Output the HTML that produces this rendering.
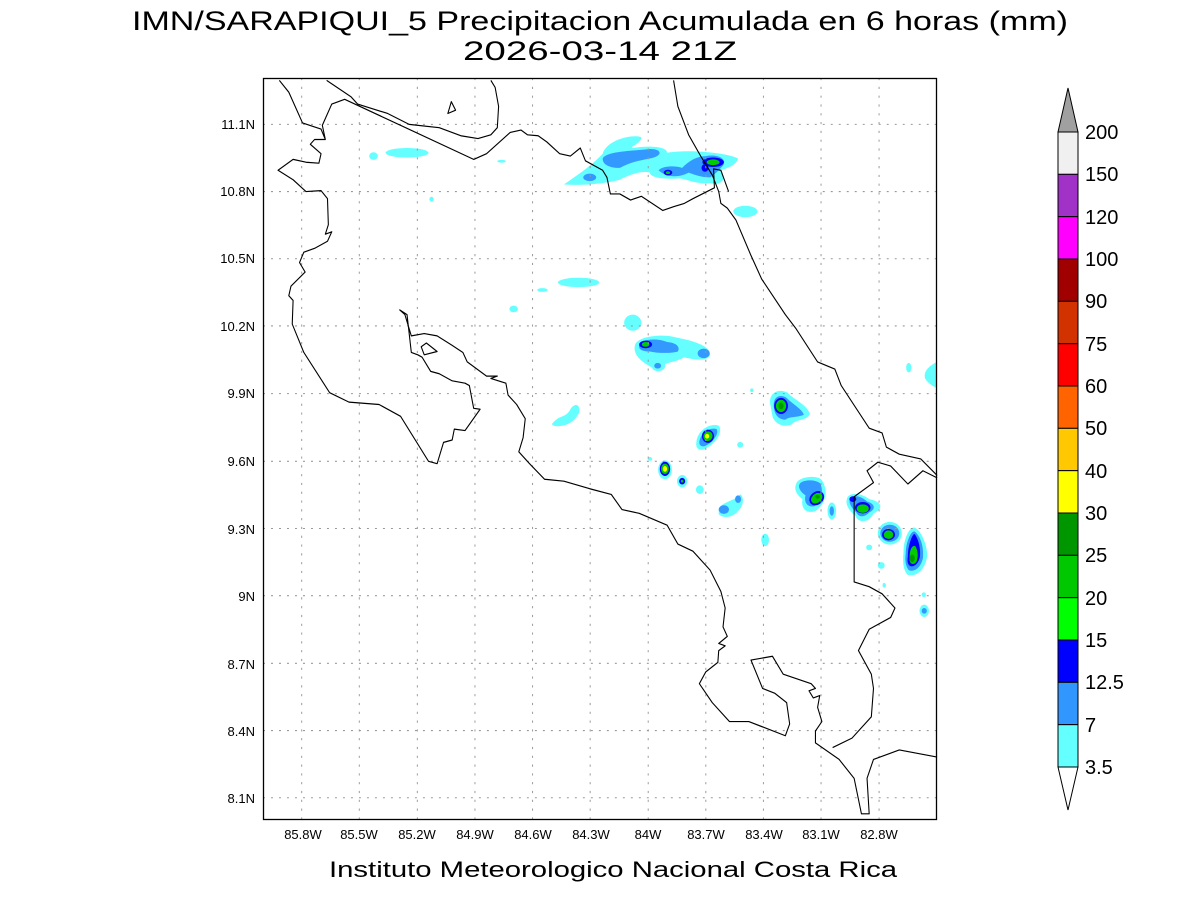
<!DOCTYPE html>
<html><head><meta charset="utf-8"><style>
html,body{margin:0;padding:0;background:#fff;}
svg{display:block;}
text{font-family:"Liberation Sans",sans-serif;fill:#000;}
</style></head><body>
<svg width="1200" height="900" viewBox="0 0 1200 900" xmlns="http://www.w3.org/2000/svg">
<rect width="1200" height="900" fill="#fff"/>
<text x="600" y="30" font-size="27" text-anchor="middle" textLength="936" lengthAdjust="spacingAndGlyphs">IMN/SARAPIQUI_5 Precipitacion Acumulada en 6 horas (mm)</text>
<text x="600" y="60" font-size="27" text-anchor="middle" textLength="274" lengthAdjust="spacingAndGlyphs">2026-03-14 21Z</text>
<text x="613" y="877" font-size="22" text-anchor="middle" textLength="568" lengthAdjust="spacingAndGlyphs" fill="#444">Instituto Meteorologico Nacional Costa Rica</text>

<g transform="translate(263,78) scale(0.42992,0.4732)">
 <g>
  <ellipse cx="335" cy="158" rx="50" ry="10" fill="#66ffff"/>
  <ellipse cx="257" cy="165" rx="10" ry="8" fill="#66ffff"/>
  <ellipse cx="555" cy="176" rx="10" ry="3" fill="#66ffff"/>
  <ellipse cx="392" cy="256" rx="5" ry="5" fill="#66ffff"/>
  <path d="M700,225 C740,200 770,180 790,160 C800,130 860,118 880,125 C880,140 850,145 860,148 C900,142 940,145 940,158 C990,150 1080,158 1105,170 C1100,185 1080,190 1065,195 C1080,215 1065,228 1040,222 C1010,225 990,215 970,212 C930,215 900,210 900,200 C880,195 850,205 830,215 C800,222 750,228 700,225Z" fill="#66ffff"/>
  <path d="M790,170 C800,155 850,155 900,150 C930,150 930,165 900,170 C870,175 850,180 830,190 C810,190 790,185 790,170Z" fill="#3399ff"/>
  <ellipse cx="760" cy="210" rx="15" ry="8" fill="#3399ff"/>
  <path d="M920,195 C930,185 960,185 975,190 C990,175 1010,165 1030,165 C1060,160 1080,172 1070,185 C1060,195 1050,205 1040,210 C1020,210 1005,205 990,200 C970,210 940,212 920,195Z" fill="#3399ff"/>
  <ellipse cx="1047" cy="178" rx="25" ry="10" fill="#0000ff"/>
  <ellipse cx="1047" cy="178" rx="15" ry="6" fill="#00cc00"/>
  <ellipse cx="1028" cy="190" rx="8" ry="8" fill="#0000ff"/>
  <ellipse cx="942" cy="200" rx="10" ry="6" fill="#0000ff"/>
  <ellipse cx="942" cy="200" rx="5" ry="3" fill="#00cc00"/>
  <ellipse cx="1122" cy="282" rx="28" ry="12" fill="#66ffff"/>
  <ellipse cx="734" cy="432" rx="48" ry="10" fill="#66ffff"/>
  <ellipse cx="650" cy="448" rx="12" ry="4" fill="#66ffff"/>
  <ellipse cx="583" cy="488" rx="10" ry="7" fill="#66ffff"/>
  <ellipse cx="860" cy="517" rx="20" ry="17" fill="#66ffff"/>
  <path d="M865,565 C870,545 930,540 960,548 C1000,555 1040,565 1040,585 C1035,600 1000,595 980,590 C960,600 945,600 935,605 C940,620 910,625 905,612 C880,600 860,585 865,565Z" fill="#66ffff"/>
  <path d="M875,565 C880,550 920,550 940,558 C965,560 970,570 965,578 C950,582 920,582 900,578 C880,578 873,572 875,565Z" fill="#3399ff"/>
  <ellipse cx="1025" cy="582" rx="14" ry="10" fill="#3399ff"/>
  <ellipse cx="918" cy="608" rx="8" ry="6" fill="#3399ff"/>
  <ellipse cx="890" cy="563" rx="15" ry="8" fill="#0000ff"/>
  <ellipse cx="890" cy="563" rx="9" ry="5" fill="#00cc00"/>
  <path d="M675,728 C690,712 705,718 715,700 C725,685 740,690 735,708 C725,725 710,735 685,736 C672,735 670,732 675,728Z" fill="#66ffff"/>
  <path d="M1180,690 C1175,665 1200,655 1220,665 C1235,680 1265,690 1272,710 C1265,725 1240,720 1230,732 C1210,740 1190,730 1185,715Z" fill="#66ffff"/>
  <path d="M1188,690 C1188,672 1205,668 1218,676 C1230,688 1255,700 1258,712 C1240,718 1225,715 1215,722 C1198,722 1188,710 1188,690Z" fill="#3399ff"/>
  <ellipse cx="1205" cy="693" rx="16" ry="17" fill="#0000ff"/>
  <ellipse cx="1205" cy="693" rx="12" ry="13" fill="#00cc00"/>
  <ellipse cx="1205" cy="693" rx="6" ry="7" fill="#009900"/>
  <path d="M1008,770 C1010,745 1040,728 1060,735 C1072,750 1050,775 1025,785 C1012,788 1006,780 1008,770Z" fill="#66ffff"/>
  <path d="M1015,768 C1018,750 1040,737 1055,742 C1062,752 1045,770 1028,778 C1018,780 1014,775 1015,768Z" fill="#3399ff"/>
  <ellipse cx="1035" cy="757" rx="14" ry="14" fill="#0000ff" transform="rotate(-30 1035 757)"/>
  <ellipse cx="1035" cy="757" rx="11" ry="10" fill="#00cc00" transform="rotate(-30 1035 757)"/>
  <ellipse cx="1033" cy="757" rx="5" ry="5" fill="#ffff00"/>
  <ellipse cx="1110" cy="775" rx="7" ry="6" fill="#66ffff"/>
  <ellipse cx="935" cy="828" rx="16" ry="20" fill="#66ffff"/>
  <ellipse cx="935" cy="826" rx="12" ry="15" fill="#0000ff"/>
  <ellipse cx="935" cy="826" rx="9" ry="11" fill="#00cc00"/>
  <ellipse cx="935" cy="826" rx="5" ry="6" fill="#ffff00"/>
  <ellipse cx="975" cy="852" rx="12" ry="13" fill="#66ffff"/>
  <ellipse cx="975" cy="852" rx="7" ry="7" fill="#0000ff"/>
  <ellipse cx="975" cy="852" rx="3" ry="3" fill="#00cc00"/>
  <ellipse cx="1016" cy="870" rx="9" ry="9" fill="#66ffff"/>
  <path d="M1060,910 C1070,895 1095,895 1110,880 C1120,885 1118,905 1105,915 C1095,928 1070,932 1060,922Z" fill="#66ffff"/>
  <ellipse cx="1072" cy="912" rx="12" ry="9" fill="#3399ff"/>
  <ellipse cx="1105" cy="890" rx="7" ry="8" fill="#3399ff"/>
  <path d="M1240,858 C1245,842 1290,838 1300,850 C1315,870 1310,900 1285,915 C1265,922 1250,910 1255,890 C1240,880 1235,868 1240,858Z" fill="#66ffff"/>
  <path d="M1248,858 C1255,848 1285,848 1295,856 C1305,870 1300,895 1282,905 C1265,908 1258,895 1262,882 C1250,875 1244,865 1248,858Z" fill="#3399ff"/>
  <ellipse cx="1288" cy="888" rx="18" ry="14" fill="#0000ff" transform="rotate(-30 1288 888)"/>
  <ellipse cx="1288" cy="888" rx="14" ry="10" fill="#00cc00" transform="rotate(-30 1288 888)"/>
  <ellipse cx="1290" cy="885" rx="5" ry="4" fill="#009900"/>
  <ellipse cx="1323" cy="915" rx="10" ry="18" fill="#66ffff"/>
  <ellipse cx="1323" cy="915" rx="5" ry="10" fill="#3399ff"/>
  <path d="M1358,890 C1360,875 1390,875 1410,890 C1440,895 1445,910 1420,920 C1410,940 1385,942 1378,925 C1360,912 1355,900 1358,890Z" fill="#66ffff"/>
  <path d="M1365,890 C1370,880 1390,882 1405,895 C1425,900 1425,912 1410,918 C1398,930 1385,928 1380,918 C1368,908 1362,898 1365,890Z" fill="#3399ff"/>
  <ellipse cx="1395" cy="908" rx="18" ry="12" fill="#0000ff"/>
  <ellipse cx="1395" cy="910" rx="14" ry="9" fill="#00cc00"/>
  <ellipse cx="1372" cy="890" rx="8" ry="6" fill="#0000ff"/>
  <ellipse cx="1458" cy="962" rx="28" ry="24" fill="#66ffff"/>
  <ellipse cx="1458" cy="962" rx="22" ry="18" fill="#3399ff"/>
  <ellipse cx="1455" cy="965" rx="15" ry="12" fill="#0000ff"/>
  <ellipse cx="1455" cy="965" rx="11" ry="9" fill="#00cc00"/>
  <path d="M1490,1000 C1490,980 1500,950 1515,950 C1530,955 1545,985 1545,1010 C1540,1040 1520,1055 1500,1050 C1488,1040 1488,1020 1490,1000Z" fill="#66ffff"/>
  <path d="M1495,1005 C1495,985 1505,958 1515,958 C1528,965 1538,990 1535,1015 C1530,1035 1515,1045 1502,1040 C1494,1030 1493,1018 1495,1005Z" fill="#3399ff"/>
  <path d="M1500,1010 C1500,990 1510,962 1516,964 C1525,975 1530,995 1528,1012 C1524,1028 1512,1036 1503,1030 C1498,1024 1499,1018 1500,1010Z" fill="#0000ff"/>
  <path d="M1504,1010 C1504,995 1512,985 1518,990 C1524,1000 1524,1012 1520,1022 C1514,1030 1506,1028 1504,1020Z" fill="#00cc00"/>
  <ellipse cx="1510" cy="1015" rx="6" ry="8" fill="#009900"/>
  <ellipse cx="1168" cy="976" rx="9" ry="13" fill="#66ffff"/>
  <ellipse cx="1410" cy="992" rx="7" ry="6" fill="#66ffff"/>
  <ellipse cx="1438" cy="1030" rx="8" ry="7" fill="#66ffff"/>
  <ellipse cx="1445" cy="1072" rx="4" ry="5" fill="#66ffff"/>
  <ellipse cx="1537" cy="1092" rx="5" ry="5" fill="#66ffff"/>
  <ellipse cx="1538" cy="1126" rx="11" ry="13" fill="#66ffff"/>
  <ellipse cx="1538" cy="1126" rx="6" ry="6" fill="#3399ff"/>
  <ellipse cx="1502" cy="612" rx="6" ry="10" fill="#66ffff"/>
  <path d="M1568,600 C1550,608 1535,620 1540,635 C1550,650 1568,655 1568,655Z" fill="#66ffff"/>
  <ellipse cx="1137" cy="660" rx="4" ry="4" fill="#66ffff"/>
  <ellipse cx="900" cy="805" rx="5" ry="4" fill="#66ffff"/>
 </g>
 <g stroke="#999" stroke-width="2.3" stroke-dasharray="4.6,14" fill="none">
  <path d="M90,0V1568M224,0V1568M359,0V1568M493,0V1568M627,0V1568M761,0V1568M896,0V1568M1030,0V1568M1164,0V1568M1298,0V1568M1433,0V1568"/>
  <path d="M0,98H1568M0,240H1568M0,382H1568M0,524H1568M0,667H1568M0,810H1568M0,952H1568M0,1094H1568M0,1237H1568M0,1379H1568M0,1521H1568"/>
 </g>
 <g fill="none" stroke="#000" stroke-width="2.5" stroke-linejoin="round">
  <path d="M38,5 L60,30 L92,95 L135,108 L145,130 L138,100 L160,55 L190,45 L490,172 L520,160 L575,115 L600,110 L615,120 L640,122 L660,135 L690,160 L715,165 L738,148 L750,175 L790,195 L800,210 L808,245 L830,245 L855,258 L880,250 L905,265 L930,280 L955,272 L980,265 L1000,255 L1050,232 L1048,192 L1065,195 L1083,240"/>
  <path d="M148,5 L205,40 L220,55 L290,75 L340,98 L410,105 L460,122 L500,128 L530,120 L545,105 L548,60 L540,20 L530,5"/>
  <path d="M430,75 L438,50 L448,68 Z"/>
  <path d="M145,130 L120,130 L110,140 L135,160 L130,180 L100,178 L70,172 L35,195 L70,215 L100,240 L135,238 L150,255 L152,310 L145,330 L160,325 L150,345 L120,360 L95,368 L85,390 L98,410 L65,440 L60,460 L70,470 L68,520 L95,580 L155,665 L200,685 L270,690 L320,715 L385,810 L405,815 L420,770 L440,765 L445,742 L470,745 L505,700 L490,698 L480,650 L470,645 L440,640 L410,625 L390,620 L370,590 L360,585 L345,580 L335,500 L318,490 L330,500 L345,545 L375,540 L405,545 L440,565 L465,580 L475,600 L520,630 L545,630 L530,635 L565,645 L570,670 L590,690 L610,720 L605,760 L595,790 L620,815 L655,848 L700,852 L760,868 L810,880 L835,912 L875,920 L940,945 L965,985 L1000,1000 L1040,1040 L1065,1085 L1075,1120 L1070,1160 L1080,1180 L1060,1195 L1075,1200 L1060,1210 L1058,1235 L1030,1255 L1015,1280 L1045,1320 L1085,1360 L1130,1360 L1215,1390 L1225,1365 L1218,1320 L1190,1300 L1162,1290 L1135,1230 L1185,1222 L1210,1260 L1275,1280 L1285,1290 L1270,1295 L1280,1310 L1295,1305 L1290,1330 L1300,1360 L1285,1380 L1285,1405 L1340,1440 L1375,1480 L1392,1555 L1410,1555 L1405,1480 L1420,1440 L1480,1420 L1568,1435"/>
  <path d="M368,568 L380,560 L405,578 L375,585 Z"/>
  <path d="M1325,1415 L1370,1395 L1415,1350 L1420,1290 L1415,1260 L1385,1210 L1410,1165 L1460,1140 L1470,1120 L1440,1090 L1410,1075 L1375,1065 L1375,885 L1420,855 L1405,830 L1430,812 L1460,820 L1500,858 L1535,830 L1568,845"/>
  <path d="M955,5 L965,60 L990,120 L1018,165 L1045,205 L1060,240 L1065,265 L1080,275 L1100,300 L1135,375 L1160,425 L1215,500 L1240,530 L1290,600 L1330,615 L1345,650 L1410,740 L1440,750 L1450,780 L1480,795 L1530,805 L1568,840"/>
 </g>
</g>
<rect x="263.5" y="78.5" width="673" height="741" fill="none" stroke="#000" stroke-width="1.3"/>

<g font-size="13" text-anchor="middle">
 <text x="303" y="839">85.8W</text><text x="359" y="839">85.5W</text><text x="417" y="839">85.2W</text><text x="475" y="839">84.9W</text><text x="533" y="839">84.6W</text><text x="591" y="839">84.3W</text><text x="648" y="839">84W</text><text x="706" y="839">83.7W</text><text x="764" y="839">83.4W</text><text x="821" y="839">83.1W</text><text x="879" y="839">82.8W</text>
</g>
<g font-size="13" text-anchor="end">
 <text x="255" y="129">11.1N</text><text x="255" y="196">10.8N</text><text x="255" y="263">10.5N</text><text x="255" y="331">10.2N</text><text x="255" y="398">9.9N</text><text x="255" y="466">9.6N</text><text x="255" y="534">9.3N</text><text x="255" y="601">9N</text><text x="255" y="669">8.7N</text><text x="255" y="736">8.4N</text><text x="255" y="803">8.1N</text>
</g>

<g stroke="#000" stroke-width="1">
 <path d="M1068,88 L1078,132 L1058,132 Z" fill="#a0a0a0"/>
 <rect x="1058" y="132" width="20" height="42.33" fill="#f0f0f0"/>
 <rect x="1058" y="174.33" width="20" height="42.33" fill="#a032c8"/>
 <rect x="1058" y="216.67" width="20" height="42.33" fill="#ff00ff"/>
 <rect x="1058" y="259" width="20" height="42.33" fill="#a00000"/>
 <rect x="1058" y="301.33" width="20" height="42.33" fill="#d23200"/>
 <rect x="1058" y="343.67" width="20" height="42.33" fill="#ff0000"/>
 <rect x="1058" y="386" width="20" height="42.33" fill="#ff6400"/>
 <rect x="1058" y="428.33" width="20" height="42.33" fill="#ffc800"/>
 <rect x="1058" y="470.67" width="20" height="42.33" fill="#ffff00"/>
 <rect x="1058" y="513" width="20" height="42.33" fill="#009600"/>
 <rect x="1058" y="555.33" width="20" height="42.33" fill="#00c800"/>
 <rect x="1058" y="597.67" width="20" height="42.33" fill="#00ff00"/>
 <rect x="1058" y="640" width="20" height="42.33" fill="#0000ff"/>
 <rect x="1058" y="682.33" width="20" height="42.33" fill="#3296ff"/>
 <rect x="1058" y="724.67" width="20" height="42.33" fill="#64ffff"/>
 <path d="M1058,767 L1078,767 L1068,810 Z" fill="#fff"/>
</g>
<g font-size="20">
 <text x="1085" y="139">200</text><text x="1085" y="181">150</text><text x="1085" y="224">120</text><text x="1085" y="266">100</text><text x="1085" y="308">90</text><text x="1085" y="351">75</text><text x="1085" y="393">60</text><text x="1085" y="435">50</text><text x="1085" y="478">40</text><text x="1085" y="520">30</text><text x="1085" y="562">25</text><text x="1085" y="605">20</text><text x="1085" y="647">15</text><text x="1085" y="689">12.5</text><text x="1085" y="732">7</text><text x="1085" y="774">3.5</text>
</g>
</svg>
</body></html>
